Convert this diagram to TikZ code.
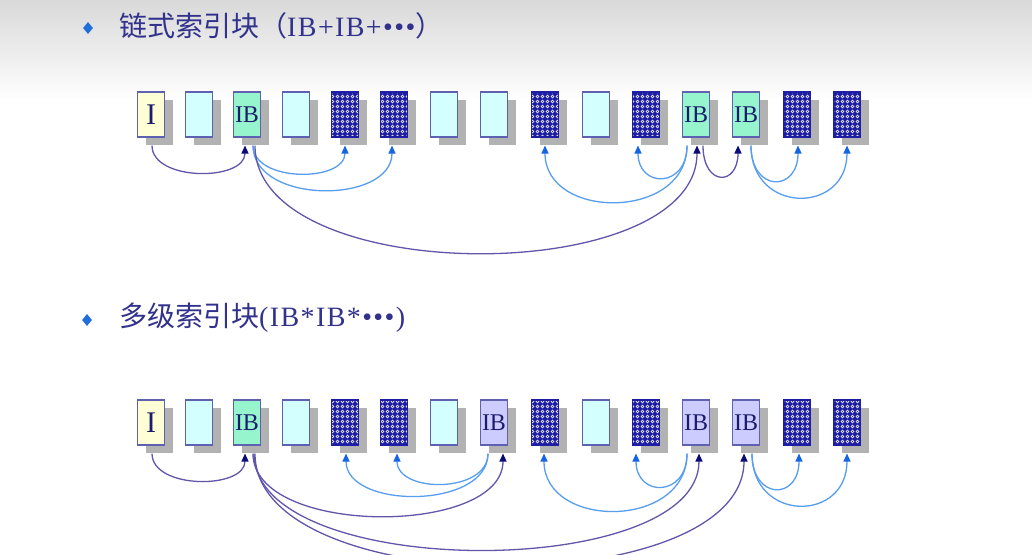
\documentclass[tikz,border=0pt]{standalone}
\usepackage{fontspec}
\setmainfont{Liberation Serif}
\newfontfamily\cjk{Noto Sans CJK SC}
\newfontfamily\latin[LetterSpace=5]{Liberation Serif}
\usetikzlibrary{arrows.meta,shapes.geometric,shadows,patterns}
\definecolor{boxline}{RGB}{96,96,176}
\definecolor{labnavy}{RGB}{28,28,110}
\definecolor{headcol}{RGB}{50,50,140}
\definecolor{inodefill}{RGB}{255,255,214}
\definecolor{datafill}{RGB}{212,255,255}
\definecolor{ibgreen}{RGB}{150,245,205}
\definecolor{iblav}{RGB}{204,204,255}
\definecolor{patblue}{RGB}{30,30,165}
\definecolor{linkpurple}{RGB}{98,86,170}
\definecolor{tipnavy}{RGB}{10,10,120}
\definecolor{ptrblue}{RGB}{88,158,238}
\definecolor{tipblue}{RGB}{20,100,230}
\definecolor{bulletblue}{RGB}{30,110,220}
% little white rings for the full data blocks
\pgfdeclarepatternformonly{speckle}{\pgfpoint{-1pt}{-1pt}}{\pgfpoint{6pt}{6pt}}{\pgfpoint{5pt}{5pt}}{
  \pgfsetlinewidth{0.7pt}
  \pgfpathcircle{\pgfpoint{2.5pt}{2.5pt}}{1.3pt}
  \pgfusepath{stroke}
}

\begin{document}
\begin{tikzpicture}[x=1pt, y=-1pt,
    blk/.style={draw=boxline, line width=1.1pt, minimum width=27pt, minimum height=45pt,
                inner sep=0pt, text=labnavy, font=\fontsize{24}{24}\selectfont,
                general shadow={fill=black!30, shadow xshift=8pt, shadow yshift=-8pt}},
    inode/.style={blk, fill=inodefill, font=\fontsize{30}{30}\selectfont},
    datab/.style={blk, fill=datafill},
    ibg/.style={blk, fill=ibgreen},
    ibl/.style={blk, fill=iblav},
    full/.style={blk, draw=patblue, preaction={fill=patblue}, pattern=speckle,
                 pattern color=white!85!patblue},
    link/.style={linkpurple, line width=1.3pt,
                 -{Triangle[length=8pt, width=7pt, color=tipnavy]}},
    ptr/.style={ptrblue, line width=1.3pt,
                -{Triangle[length=8pt, width=7pt, color=tipblue]}},
    bullet/.style={diamond, fill=bulletblue, inner sep=0pt, minimum width=10pt,
                   minimum height=12pt},
    head/.style={anchor=west, text=headcol, inner sep=0pt,
                 font=\fontsize{28}{28}\selectfont}]
\useasboundingbox (0,0) rectangle (1032,554);
\fill[white] (0,0) rectangle (1032,554);
\shade[top color=black!15, bottom color=white] (0,0) rectangle (1032,100);

% chained index blocks
\node[bullet] (d1) at (88,28) {};
\node[head] (h1) at (119,26) {{\cjk 链式索引块（}{\latin IB+IB+•••}{\cjk ）}};
\foreach \n/\x/\s/\t in {1/151/inode/I, 2/199/datab/{}, 3/247/ibg/IB, 4/296/datab/{},
    5/345/full/{}, 6/394/full/{}, 7/444/datab/{}, 8/494/datab/{}, 9/545/full/{},
    10/596/datab/{}, 11/646/full/{}, 12/696/ibg/IB, 13/746/ibg/IB, 14/797/full/{},
    15/847/full/{}} {
  \node[\s] (a\n) at (\x,114.5) {\t};
}
\draw[link] ([shift={(1,8)}]a1.south) .. controls +(0,36) and +(0,36) .. ([shift={(-2,8)}]a3.south);
\draw[ptr] ([shift={(6,8)}]a3.south) .. controls +(0,37) and +(0,37) .. ([shift={(0,8)}]a5.south);
\draw[ptr] ([shift={(6,8)}]a3.south) .. controls +(0,59) and +(0,59) .. ([shift={(-2,8)}]a6.south);
\draw[link] ([shift={(8,8)}]a3.south) .. controls +(0,143) and +(0,143) .. ([shift={(1,8)}]a12.south);
\draw[ptr] ([shift={(-9,8)}]a12.south) .. controls +(0,75) and +(0,75) .. ([shift={(0,8)}]a9.south);
\draw[ptr] ([shift={(-9,8)}]a12.south) .. controls +(0,43) and +(0,43) .. ([shift={(-8,8)}]a11.south);
\draw[link] ([shift={(7,8)}]a12.south) .. controls +(0,41) and +(0,41) .. ([shift={(-8,8)}]a13.south);
\draw[ptr] ([shift={(5,8)}]a13.south) .. controls +(0,47) and +(0,47) .. ([shift={(1,8)}]a14.south);
\draw[ptr] ([shift={(5,8)}]a13.south) .. controls +(0,69) and +(0,69) .. ([shift={(0,8)}]a15.south);

% multilevel index blocks
\node[bullet] (d2) at (87,320) {};
\node[head] (h2) at (119,318) {{\cjk 多级索引块}{\latin (IB*IB*•••)}};
\foreach \n/\x/\s/\t in {1/151/inode/I, 2/199/datab/{}, 3/247/ibg/IB, 4/296/datab/{},
    5/345/full/{}, 6/394/full/{}, 7/444/datab/{}, 8/494/ibl/IB, 9/545/full/{},
    10/596/datab/{}, 11/646/full/{}, 12/696/ibl/IB, 13/746/ibl/IB, 14/797/full/{},
    15/847/full/{}} {
  \node[\s] (b\n) at (\x,422.5) {\t};
}
\draw[link] ([shift={(1,8)}]b1.south) .. controls +(0,36) and +(0,36) .. ([shift={(-2,8)}]b3.south);
\draw[link] ([shift={(6,8)}]b3.south) .. controls +(0,83) and +(0,83) .. ([shift={(9,8)}]b8.south);
\draw[link] ([shift={(7,8)}]b3.south) .. controls +(0,128) and +(0,128) .. ([shift={(3,8)}]b12.south);
\draw[link] ([shift={(8,8)}]b3.south) .. controls +(0,149) and +(0,149) .. ([shift={(-2,8)}]b13.south);
\draw[ptr] ([shift={(-6,8)}]b8.south) .. controls +(0,56) and +(0,56) .. ([shift={(1,8)}]b5.south);
\draw[ptr] ([shift={(-6,8)}]b8.south) .. controls +(0,40) and +(0,40) .. ([shift={(3,8)}]b6.south);
\draw[ptr] ([shift={(-9,8)}]b12.south) .. controls +(0,76) and +(0,76) .. ([shift={(-1,8)}]b9.south);
\draw[ptr] ([shift={(-9,8)}]b12.south) .. controls +(0,44) and +(0,44) .. ([shift={(-10,8)}]b11.south);
\draw[ptr] ([shift={(6,8)}]b13.south) .. controls +(0,47) and +(0,47) .. ([shift={(2,8)}]b14.south);
\draw[ptr] ([shift={(6,8)}]b13.south) .. controls +(0,69) and +(0,69) .. ([shift={(0,8)}]b15.south);
\end{tikzpicture}
\end{document}
